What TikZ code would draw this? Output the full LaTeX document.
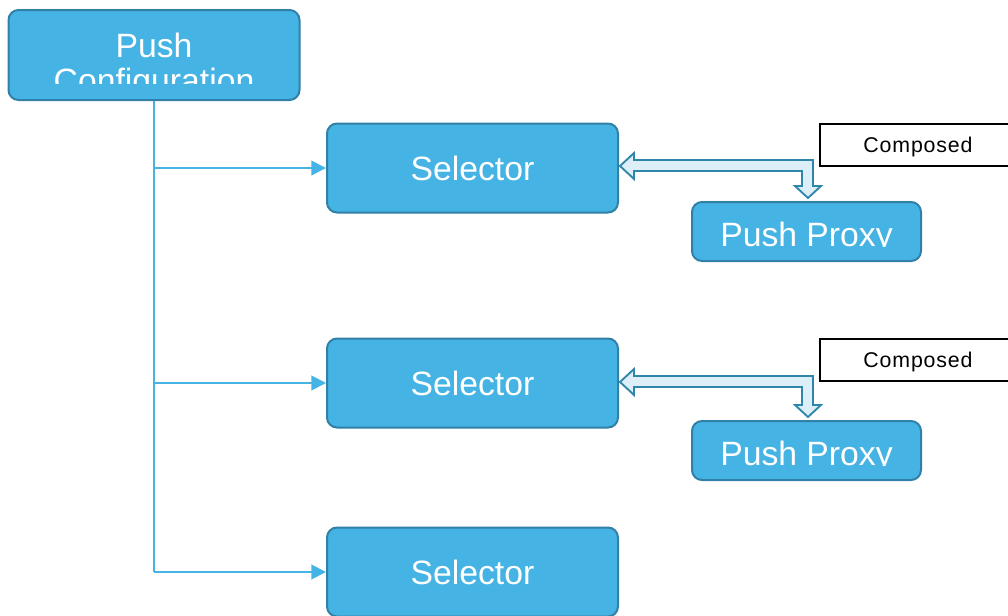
\documentclass[tikz,border=0pt]{standalone}
\usepackage{fontspec}
\setmainfont{Liberation Sans}
\usetikzlibrary{arrows.meta,calc}
\definecolor{boxfill}{RGB}{69,179,227}
\definecolor{boxline}{RGB}{48,128,168}
\definecolor{connline}{RGB}{69,179,227}
\definecolor{arrfill}{RGB}{220,239,248}
\definecolor{arrline}{RGB}{46,134,171}
\tikzset{
  bluebox/.style={draw=boxline, fill=boxfill, line width=1.5pt, rounded corners=7.5pt, inner sep=0pt},
  bigtext/.style={text=white, font=\fontsize{25.3}{29}\selectfont, inner sep=0pt},
  trunk/.style={draw=connline, line width=1.5pt},
  conn/.style={draw=connline, line width=1.5pt, -{Triangle[length=11pt,width=11pt]}},
  labelbox/.style={draw=black, fill=white, line width=1.1pt, inner sep=0pt},
  smalltext/.style={font=\addfontfeatures{LetterSpace=4}\fontsize{16}{19}\selectfont, inner sep=0pt},
  dblarr/.style={draw=arrline, fill=arrfill, line width=1.4pt, line join=miter},
}
\newcommand\elbowarrow[2]{%
  \path[dblarr] (#1) -- ($(#1)+(14,-13)$) -- ($(#1)+(14,-6)$) -- ($(#1 -| #2)+(5,-6)$)
    -- ($(#2)+(5,-12)$) -- ($(#2)+(13,-12)$) -- (#2) -- ($(#2)+(-13,-12)$) -- ($(#2)+(-6,-12)$)
    -- ($(#1 -| #2)+(-6,5)$) -- ($(#1)+(14,5)$) -- ($(#1)+(14,13)$) -- cycle;}
\begin{document}
\begin{tikzpicture}[x=0.75pt,y=-0.75pt]
\useasboundingbox (0,0) rectangle (1008,615);
% config
\node[bluebox, minimum width=291*0.75pt, minimum height=90*0.75pt] (cfg) at (154,55) {};
\begin{scope}
  \clip (8,10) rectangle (299,83.5);
  \node[bigtext, anchor=base] (cfgt1) at (154,57) {Push};
  \node[bigtext, anchor=base] (cfgt2) at (154,92) {Configuration};
\end{scope}
% selectors
\node[bluebox, minimum width=291*0.75pt, minimum height=89*0.75pt] (sel1) at (472.5,168) {};
\node[bigtext] (sel1t) at (472.5,168.5) {Selector};
\node[bluebox, minimum width=291*0.75pt, minimum height=89*0.75pt] (sel2) at (472.5,383) {};
\node[bigtext] (sel2t) at (472.5,383.5) {Selector};
\node[bluebox, minimum width=291*0.75pt, minimum height=89*0.75pt] (sel3) at (472.5,572) {};
\node[bigtext] (sel3t) at (472.5,572.5) {Selector};
% proxies
\node[bluebox, minimum width=229*0.75pt, minimum height=59*0.75pt] (px1) at (806.5,231.5) {};
\node[bluebox, minimum width=229*0.75pt, minimum height=59*0.75pt] (px2) at (806.5,450.5) {};
\begin{scope}
  \clip (692,202) rectangle (921,246.5);
  \node[bigtext, anchor=base] (px1t) at (806.5,246.5) {Push Proxy};
\end{scope}
\begin{scope}
  \clip (692,421) rectangle (921,465.5);
  \node[bigtext, anchor=base] (px2t) at (806.5,465.5) {Push Proxy};
\end{scope}
% composed labels
\node[labelbox, minimum width=196*0.75pt, minimum height=42*0.75pt] (cmp1) at (918,145) {};
\node[smalltext] (cmp1t) at (918,147) {Composed};
\node[labelbox, minimum width=196*0.75pt, minimum height=42*0.75pt] (cmp2) at (918,360) {};
\node[smalltext] (cmp2t) at (918,362) {Composed};
% connectors
\coordinate (tb) at (cfg.south |- sel3.west);
\draw[trunk] (cfg.south) -- (tb);
\draw[conn] (cfg.south |- sel1.west) -- (sel1.west);
\draw[conn] (cfg.south |- sel2.west) -- (sel2.west);
\draw[conn] (tb) -- (sel3.west);
% elbow double arrows
\coordinate (l1) at ($(sel1.east)+(1,-2)$);
\coordinate (d1) at ($(px1.north)+(1.5,-3)$);
\elbowarrow{l1}{d1}
\coordinate (l2) at ($(sel2.east)+(1,-1)$);
\coordinate (d2) at ($(px2.north)+(1.5,-3)$);
\elbowarrow{l2}{d2}
\end{tikzpicture}
\end{document}
